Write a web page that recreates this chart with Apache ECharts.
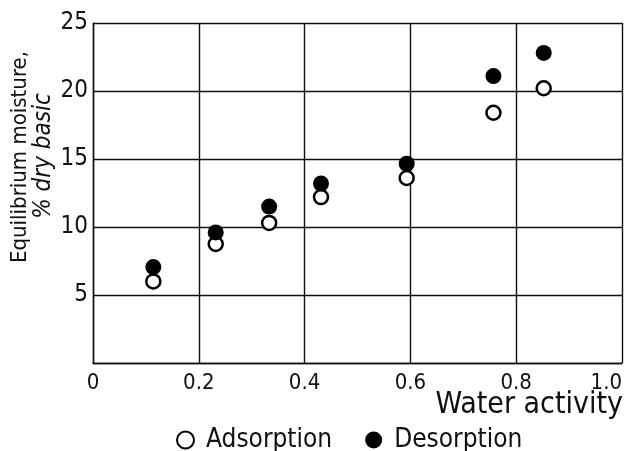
<!DOCTYPE html>
<html>
<head>
<meta charset="utf-8">
<script src="https://cdn.jsdelivr.net/npm/echarts@6/dist/echarts.min.js"></script>
<style>html,body{margin:0;padding:0;background:#fff}#c{width:629px;height:451px}</style>
</head>
<body>
<div id="c"></div>
<script>
const FONT = '"Liberation Sans Narrow", "DejaVu Sans Condensed", sans-serif';
const waterActivity = [0.114, 0.232, 0.333, 0.431, 0.593, 0.757, 0.852];
const adsorption = [6.0, 8.75, 10.3, 12.2, 13.6, 18.4, 20.2];
const desorption = [7.05, 9.6, 11.5, 13.2, 14.65, 21.1, 22.8];
const xTicks = ['0', '0.2', '0.4', '0.6', '0.8', '1.0'];
const yTicks = ['', '5', '10', '15', '20', '25'];
const seriesNames = ['Adsorption', 'Desorption'];
const xName = 'Water activity';
const yName1 = 'Equilibrium moisture,';
const yName2 = '% dry basic';

const chart = echarts.init(document.getElementById('c'), null, {renderer: 'canvas'});
const lineStyle = {color: '#111', width: 1.4};
chart.setOption({
  animation: false,
  backgroundColor: '#fff',
  grid: {left: 93, right: 7, top: 23, bottom: 88, containLabel: false, outerBoundsMode: 'none'},
  xAxis: {
    type: 'value', min: 0, max: 1, interval: 0.2,
    axisLine: {show: true, lineStyle: lineStyle},
    axisTick: {show: false},
    splitLine: {show: true, lineStyle: lineStyle},
    axisLabel: {
      color: '#111', fontFamily: FONT, fontSize: 22, margin: 9,
      alignMaxLabel: 'right',
      formatter: v => xTicks[Math.round(v / 0.2)]
    }
  },
  yAxis: {
    type: 'value', min: 0, max: 25, interval: 5,
    axisLine: {show: true, lineStyle: lineStyle},
    axisTick: {show: false},
    splitLine: {show: true, lineStyle: lineStyle},
    axisLabel: {
      color: '#111', fontFamily: FONT, fontSize: 24, margin: 5,
      formatter: v => yTicks[Math.round(v / 5)]
    }
  },
  legend: {
    top: 422, left: 171, itemGap: 33, itemWidth: 17, itemHeight: 17,
    icon: 'circle',
    textStyle: {color: '#111', fontFamily: FONT, fontSize: 26, padding: [0, 0, 0, 7]},
    data: seriesNames
  },
  graphic: [
    {type: 'text', x: 20, y: 157, rotation: Math.PI / 2,
     style: {text: yName1, fill: '#111', font: '22px ' + FONT, align: 'center', verticalAlign: 'middle'}},
    {type: 'text', x: 44, y: 156, rotation: Math.PI / 2,
     style: {text: yName2, fill: '#111', font: 'italic 24px ' + FONT, align: 'center', verticalAlign: 'middle'}},
    {type: 'text', x: 623, y: 405,
     style: {text: xName, fill: '#111', font: '30px ' + FONT, align: 'right', verticalAlign: 'middle'}}
  ],
  series: [
    {name: seriesNames[0], type: 'scatter', symbol: 'circle', symbolSize: 14, z: 3,
     itemStyle: {color: '#fff', borderColor: '#000', borderWidth: 2.5, opacity: 1},
     data: waterActivity.map((x, i) => [x, adsorption[i]])},
    {name: seriesNames[1], type: 'scatter', symbol: 'circle', symbolSize: 16, z: 4,
     itemStyle: {color: '#000', opacity: 1},
     data: waterActivity.map((x, i) => [x, desorption[i]])}
  ]
});
</script>
</body>
</html>
